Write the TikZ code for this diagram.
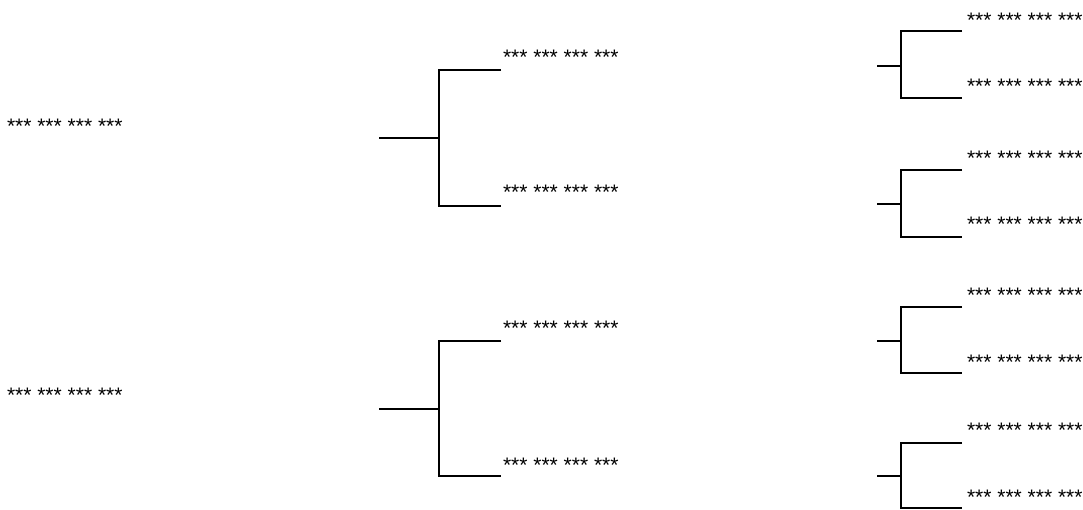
\documentclass[tikz,border=0pt]{standalone}
\usepackage{fontspec}
\setmainfont{Liberation Sans}
\begin{document}
\begin{tikzpicture}[x=1pt,y=-1pt,
  lbl/.style={anchor=base west,inner sep=0pt,outer sep=0pt,font=\fontsize{21}{21}\selectfont},
  br/.style={line width=2.7pt,line cap=butt}]
\useasboundingbox (0,0) rectangle (1083,510);
\clip (0,0) rectangle (1083,510);
\def\bl{12}
% left texts
\node[lbl] (L1) at (7,122+\bl) {*** *** *** ***};
\node[lbl] (L2) at (7,390+\bl) {*** *** *** ***};
% middle texts
\node[lbl] (M1) at (503,53+\bl) {*** *** *** ***};
\node[lbl] (M2) at (503,188+\bl) {*** *** *** ***};
\node[lbl] (M3) at (503,323+\bl) {*** *** *** ***};
\node[lbl] (M4) at (503,460+\bl) {*** *** *** ***};
% right texts
\foreach \n/\y in {1/16,2/82,3/154,4/220,5/290,6/357,7/425,8/492}{
  \node[lbl] (R\n) at (967,\y+\bl) {*** *** *** ***};
}
% middle brackets
\foreach \n/\t/\b/\s in {1/70/206/138,2/341/476/409}{
  \coordinate (ms\n) at (379,\s);
  \coordinate (mj\n) at (439,\s);
  \coordinate (mt\n) at (501,\t);
  \coordinate (mb\n) at (501,\b);
  \draw[br] (ms\n) -- (mj\n);
  \draw[br] (mt\n) -| (mj\n) |- (mb\n);
}
% right brackets
\foreach \n/\t/\b/\s in {1/31/98/66,2/170/237/204,3/307/373/341,4/443/508/476}{
  \coordinate (rs\n) at (877,\s);
  \coordinate (rj\n) at (901,\s);
  \coordinate (rt\n) at (962,\t);
  \coordinate (rb\n) at (962,\b);
  \draw[br] (rs\n) -- (rj\n);
  \draw[br] (rt\n) -| (rj\n) |- (rb\n);
}
\end{tikzpicture}
\end{document}
